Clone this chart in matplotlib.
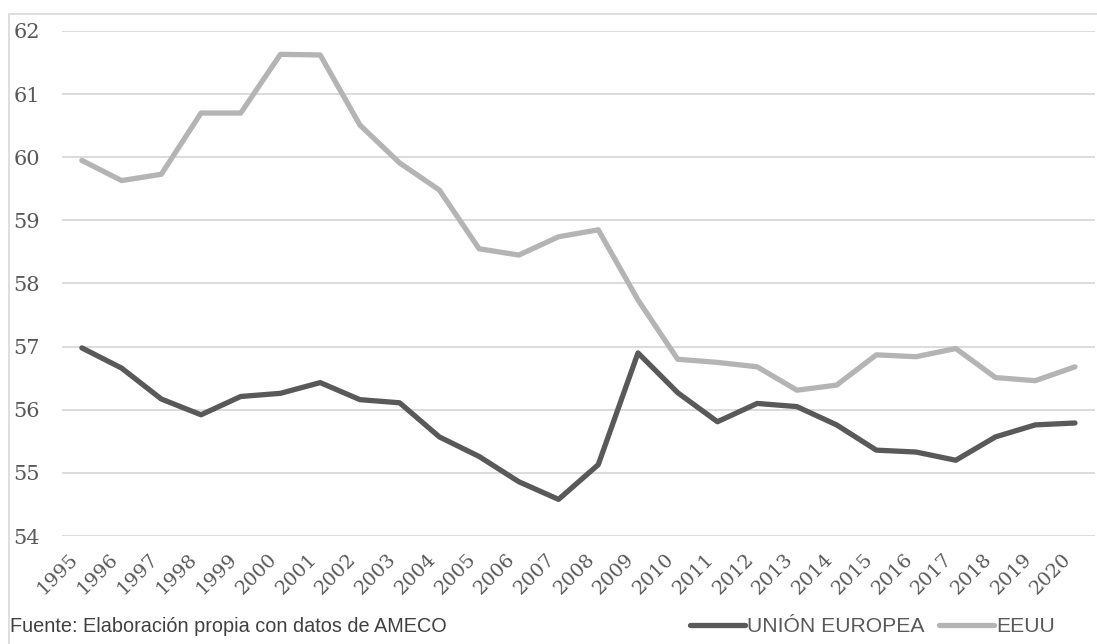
import matplotlib.pyplot as plt
from matplotlib.patches import Rectangle

years = [str(y) for y in range(1995, 2021)]
union_europea = [56.98, 56.66, 56.17, 55.92, 56.21, 56.26, 56.43, 56.16, 56.11, 55.57,
                 55.26, 54.86, 54.58, 55.13, 56.90, 56.27, 55.81, 56.10, 56.05, 55.76,
                 55.36, 55.33, 55.20, 55.57, 55.76, 55.79]
eeuu = [59.95, 59.63, 59.73, 60.70, 60.70, 61.63, 61.62, 60.51, 59.91, 59.48,
        58.55, 58.45, 58.74, 58.85, 57.74, 56.80, 56.75, 56.68, 56.31, 56.39,
        56.87, 56.84, 56.97, 56.51, 56.46, 56.68]
y_ticks = [54, 55, 56, 57, 58, 59, 60, 61, 62]

fig = plt.figure(figsize=(10.97, 6.44), dpi=100)
ax = fig.add_axes([0.0565, 0.1677, 0.9415, 0.7842])

x = range(len(years))
ax.plot(x, union_europea, color='#595959', lw=3.8, label='UNIÓN EUROPEA', solid_capstyle='round')
ax.plot(x, eeuu, color='#B4B4B4', lw=3.8, label='EEUU', solid_capstyle='round')

ax.set_xlim(-0.5, len(years) - 0.5)
ax.set_ylim(54, 62)
ax.set_yticks(y_ticks)
ax.set_yticklabels([str(v) for v in y_ticks], family='DejaVu Serif', fontsize=15, color='#595959')
ax.set_xticks(list(x))
ax.set_xticklabels(years, rotation=45, ha='right', family='DejaVu Serif', fontsize=14,
                   color='#595959')
ax.tick_params(axis='both', length=0)
ax.tick_params(axis='y', pad=16)
ax.tick_params(axis='x', pad=10)
ax.grid(axis='y', color='#D9D9D9', lw=1.3)
ax.set_axisbelow(True)
for s in ax.spines.values():
    s.set_visible(False)

# outer frame of the chart area
fig.patches.append(Rectangle((9 / 1097, -0.1), 1.2, 1 - 14 / 644 + 0.1, transform=fig.transFigure,
                             fill=False, edgecolor='#D9D9D9', lw=1.2))

fig.text(10 / 1097, 1 - 626 / 644, 'Fuente: Elaboración propia con datos de AMECO',
         family='Liberation Sans', fontsize=14.3, color='#404040', va='center', ha='left')

fig.legend(loc='center right', bbox_to_anchor=(1055 / 1097, 1 - 627 / 644), ncol=2, frameon=False,
           prop={'family': 'Liberation Sans', 'size': 15.2}, handlelength=2.6, handletextpad=0.1,
           columnspacing=0.7, labelcolor='#595959', borderpad=0, borderaxespad=0)

fig.savefig('out.png', dpi=100, facecolor='white')
